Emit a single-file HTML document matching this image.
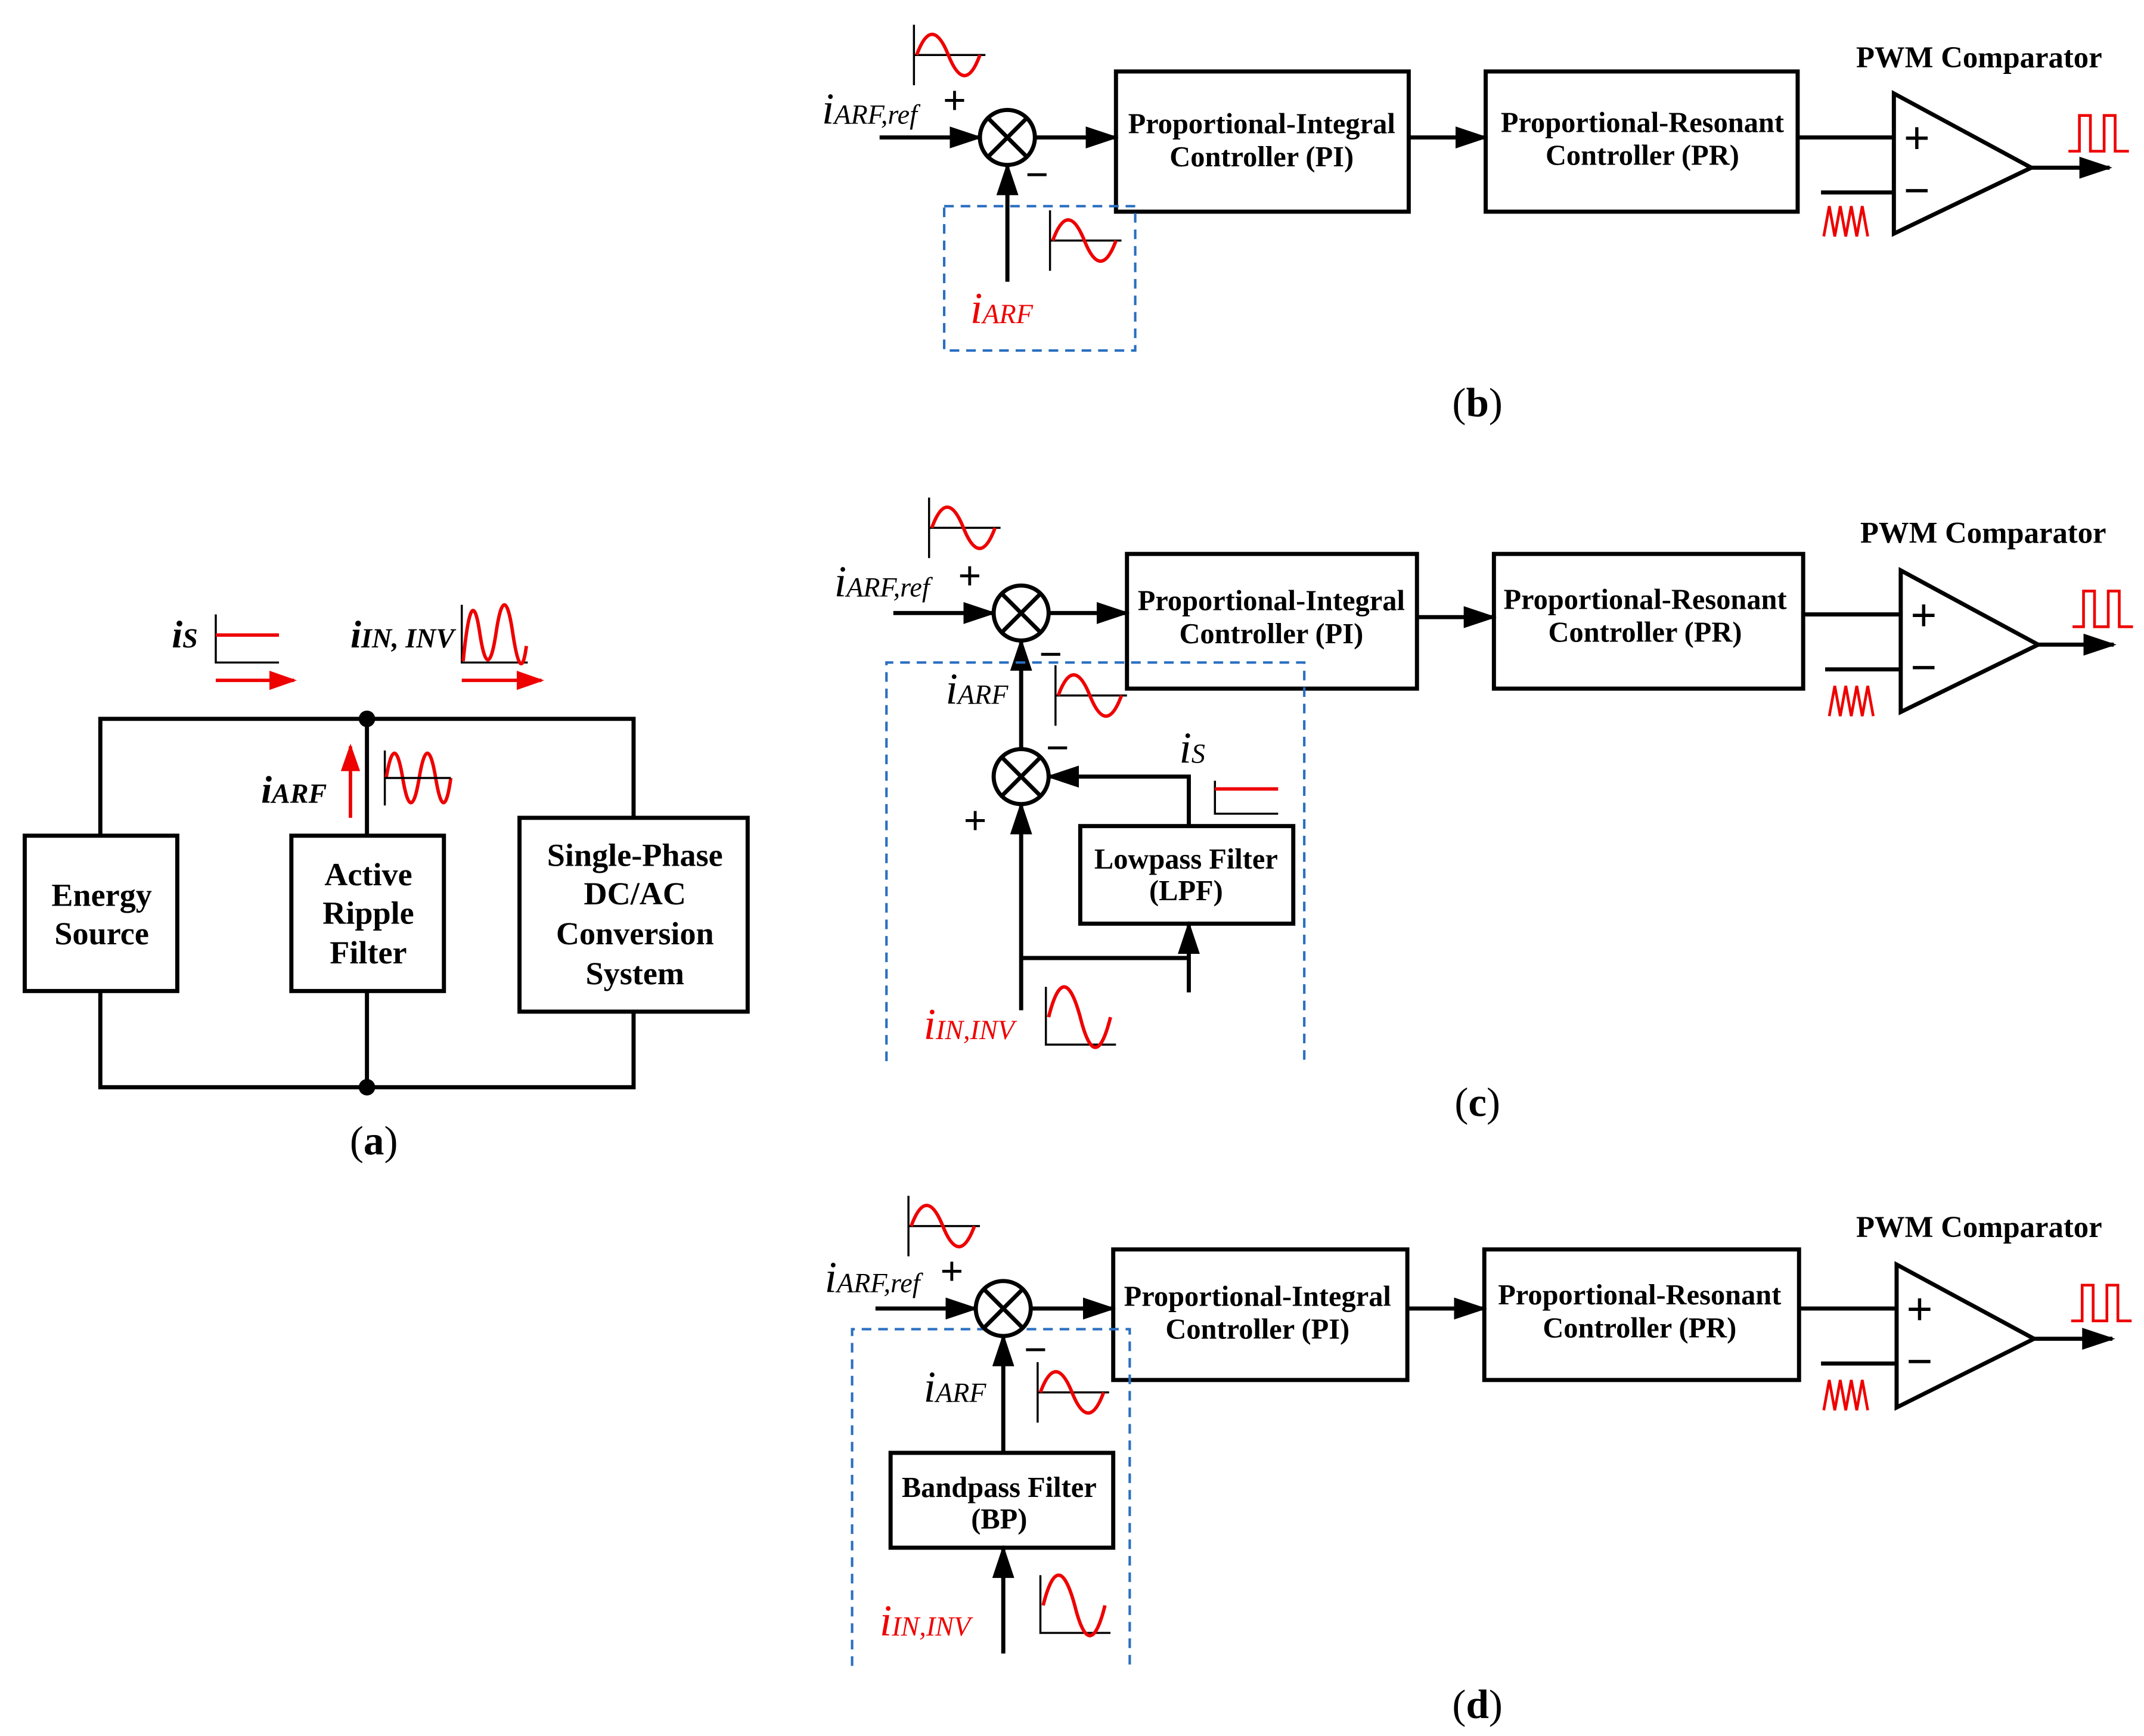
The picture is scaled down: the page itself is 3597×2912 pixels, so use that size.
<!DOCTYPE html>
<html><head><meta charset="utf-8"><style>
html,body{margin:0;padding:0;background:#fff;}
svg{display:block;}
text{font-family:"Liberation Serif",serif;}
.b{font-weight:bold;font-size:21px;}
.lab{font-size:32px;font-style:italic;}
.sub{font-size:20px;font-style:italic;}
</style></head><body>
<svg width="3597" height="2912" viewBox="0 0 1560 1263" preserveAspectRatio="none" xmlns="http://www.w3.org/2000/svg">
<defs>
<marker id="arL" markerWidth="24" markerHeight="16" refX="22" refY="8" orient="auto" markerUnits="userSpaceOnUse"><path d="M0,0 L24,8 L0,16 z" fill="#000"/></marker>
<marker id="arR" markerWidth="20" markerHeight="14" refX="18" refY="7" orient="auto" markerUnits="userSpaceOnUse"><path d="M0,0 L20,7 L0,14 z" fill="#e00"/></marker>
<g id="sine"><path d="M0,-22 L0,22 M0,0 L52,0" stroke="#000" stroke-width="1.5" fill="none"/><path d="M2,0 Q13,-30 25,0 Q37,30 48,0" stroke="#e00" stroke-width="2.5" fill="none"/></g>
<g id="sum"><circle cx="0" cy="0" r="20" fill="#fff" stroke="#000" stroke-width="3"/><path d="M-14,-14 L14,14 M-14,14 L14,-14" stroke="#000" stroke-width="3"/></g>
<g id="saw"><path d="M0,24 L4,2 L8,24 L12,2 L16,24 L20,2 L24,24 L28,2 L32,24" stroke="#e00" stroke-width="2" fill="none"/></g>
<g id="pulse"><path d="M0,26 L8,26 L8,0 L16,0 L16,26 L26,26 L26,0 L34,0 L34,26 L44,26" stroke="#e00" stroke-width="2" fill="none"/></g>
</defs>
<g stroke="#000" stroke-width="3" fill="none">
<line x1="640" y1="100" x2="713" y2="100" marker-end="url(#arL)"/>
<line x1="753" y1="100" x2="812" y2="100" marker-end="url(#arL)"/>
<rect x="812" y="52" width="213" height="102"/>
<line x1="1025" y1="100" x2="1081" y2="100" marker-end="url(#arL)"/>
<rect x="1081" y="52" width="227" height="102"/>
<line x1="1308" y1="100" x2="1378" y2="100"/>
<line x1="1325" y1="140" x2="1378" y2="140"/>
<path d="M1378,68 L1378,170 L1478,122 z"/>
<line x1="1478" y1="122" x2="1535" y2="122" marker-end="url(#arL)"/>
<line x1="733" y1="205" x2="733" y2="120" marker-end="url(#arL)"/>
<line x1="650" y1="446" x2="723" y2="446" marker-end="url(#arL)"/>
<line x1="763" y1="446" x2="820" y2="446" marker-end="url(#arL)"/>
<rect x="820" y="403" width="211" height="98"/>
<line x1="1031" y1="449" x2="1087" y2="449" marker-end="url(#arL)"/>
<rect x="1087" y="403" width="225" height="98"/>
<line x1="1312" y1="447" x2="1383" y2="447"/>
<line x1="1328" y1="487" x2="1383" y2="487"/>
<path d="M1383,415 L1383,518 L1483,469 z"/>
<line x1="1483" y1="469" x2="1538" y2="469" marker-end="url(#arL)"/>
<line x1="743" y1="545" x2="743" y2="466" marker-end="url(#arL)"/>
<line x1="743" y1="735" x2="743" y2="585" marker-end="url(#arL)"/>
<polyline points="865,601 865,565 763,565" marker-end="url(#arL)"/>
<rect x="786" y="601" width="155" height="71"/>
<polyline points="743,697 865,697"/>
<line x1="865" y1="722" x2="865" y2="672" marker-end="url(#arL)"/>
<line x1="637" y1="952" x2="710" y2="952" marker-end="url(#arL)"/>
<line x1="750" y1="952" x2="810" y2="952" marker-end="url(#arL)"/>
<rect x="810" y="909" width="214" height="95"/>
<line x1="1024" y1="952" x2="1080" y2="952" marker-end="url(#arL)"/>
<rect x="1080" y="909" width="229" height="95"/>
<line x1="1309" y1="952" x2="1380" y2="952"/>
<line x1="1325" y1="992" x2="1380" y2="992"/>
<path d="M1380,920 L1380,1024 L1480,974 z"/>
<line x1="1480" y1="974" x2="1537" y2="974" marker-end="url(#arL)"/>
<line x1="730" y1="1057" x2="730" y2="972" marker-end="url(#arL)"/>
<rect x="648" y="1057" width="162" height="69"/>
<line x1="730" y1="1203" x2="730" y2="1126" marker-end="url(#arL)"/>
<polyline points="73,608 73,523 461,523 461,595"/>
<polyline points="73,721 73,791 461,791 461,736"/>
<line x1="267" y1="523" x2="267" y2="608"/>
<line x1="267" y1="721" x2="267" y2="791"/>
<rect x="18" y="608" width="111" height="113"/>
<rect x="212" y="608" width="111" height="113"/>
<rect x="378" y="595" width="166" height="141"/>
</g>
<circle cx="267" cy="523" r="6"/><circle cx="267" cy="791" r="6"/>
<g stroke="#2a6fc0" stroke-width="1.8" stroke-dasharray="7,5" fill="none">
<rect x="687" y="150" width="139" height="105"/>
<polyline points="645,772 645,482 949,482 949,772"/>
<polyline points="620,1212 620,967 822,967 822,1212"/>
</g>
<use href="#sum" x="733" y="100"/>
<use href="#sum" x="743" y="446"/>
<use href="#sum" x="743" y="565"/>
<use href="#sum" x="730" y="952"/>
<use href="#sine" x="665" y="40"/>
<use href="#sine" x="764" y="175"/>
<use href="#sine" x="676" y="384"/>
<use href="#sine" x="768" y="506"/>
<use href="#sine" x="661" y="892"/>
<use href="#sine" x="755" y="1013"/>
<g stroke="#000" stroke-width="1.5" fill="none"><path d="M761,718 L761,760 L812,760"/><path d="M757,1146 L757,1188 L808,1188"/><path d="M884,568 L884,592 L930,592"/></g>
<path d="M763,740 Q774,696 786,740 Q797,784 808,740" stroke="#e00" stroke-width="2.5" fill="none"/>
<path d="M759,1168 Q770,1124 782,1168 Q793,1212 804,1168" stroke="#e00" stroke-width="2.5" fill="none"/>
<line x1="884" y1="574" x2="930" y2="574" stroke="#e00" stroke-width="2.5"/>
<use href="#saw" x="1327" y="148"/>
<use href="#saw" x="1331" y="497"/>
<use href="#saw" x="1327" y="1002"/>
<use href="#pulse" x="1505" y="84"/>
<use href="#pulse" x="1508" y="430"/>
<use href="#pulse" x="1507" y="935"/>
<g stroke="#000" stroke-width="1.5" fill="none"><path d="M157,447 L157,482 L203,482"/><path d="M336,440 L336,482 L384,482"/><path d="M280,546 L280,586"/></g>
<line x1="157" y1="462" x2="203" y2="462" stroke="#e00" stroke-width="2.5"/>
<path d="M337,481 Q343,420 349,460 Q355,500 361,460 Q367,420 373,460 Q379,500 383,470" stroke="#e00" stroke-width="2.5" fill="none"/>
<path d="M281,566 Q287,530 293,566 Q299,602 305,566 Q311,530 317,566 Q323,602 328,566" stroke="#e00" stroke-width="2.5" fill="none"/>
<line x1="280" y1="566" x2="328" y2="566" stroke="#000" stroke-width="1.5"/>
<line x1="157" y1="495" x2="214" y2="495" stroke="#e00" stroke-width="2.5" marker-end="url(#arR)"/>
<line x1="336" y1="495" x2="394" y2="495" stroke="#e00" stroke-width="2.5" marker-end="url(#arR)"/>
<line x1="255" y1="595" x2="255" y2="543" stroke="#e00" stroke-width="2.5" marker-end="url(#arR)"/>
<g class="b" text-anchor="middle">
<text x="918" y="97">Proportional-Integral</text><text x="918" y="121">Controller (PI)</text>
<text x="1195" y="96">Proportional-Resonant</text><text x="1195" y="120">Controller (PR)</text>
<text x="925" y="444">Proportional-Integral</text><text x="925" y="468">Controller (PI)</text>
<text x="1197" y="443">Proportional-Resonant</text><text x="1197" y="467">Controller (PR)</text>
<text x="915" y="950">Proportional-Integral</text><text x="915" y="974">Controller (PI)</text>
<text x="1193" y="949">Proportional-Resonant</text><text x="1193" y="973">Controller (PR)</text>
<text x="863" y="632">Lowpass Filter</text><text x="863" y="655">(LPF)</text>
<text x="727" y="1089">Bandpass Filter</text><text x="727" y="1112">(BP)</text>
<text x="1440" y="49" font-size="22">PWM Comparator</text>
<text x="1443" y="395" font-size="22">PWM Comparator</text>
<text x="1440" y="900" font-size="22">PWM Comparator</text>
<g font-size="23.5"><text x="74" y="659">Energy</text><text x="74" y="687">Source</text>
<text x="268" y="644">Active</text><text x="268" y="672">Ripple</text><text x="268" y="701">Filter</text>
<text x="462" y="630">Single-Phase</text><text x="462" y="658">DC/AC</text><text x="462" y="687">Conversion</text><text x="462" y="716">System</text></g>
</g>
<g font-size="30" text-anchor="middle"><text x="1075" y="303">(<tspan font-weight="bold">b</tspan>)</text><text x="1075" y="812">(<tspan font-weight="bold">c</tspan>)</text><text x="1075" y="1250">(<tspan font-weight="bold">d</tspan>)</text><text x="272" y="840">(<tspan font-weight="bold">a</tspan>)</text></g>
<g font-weight="bold" font-size="30" font-family="DejaVu Sans, sans-serif">
<text x="686" y="83">+</text><text x="746" y="137">−</text>
<text x="697" y="429">+</text><text x="756" y="486">−</text><text x="761" y="554">−</text><text x="701" y="607">+</text>
<text x="684" y="935">+</text><text x="745" y="992">−</text>
<g font-size="34"><text x="1385" y="112">+</text><text x="1385" y="150">−</text>
<text x="1390" y="459">+</text><text x="1390" y="497">−</text>
<text x="1387" y="964">+</text><text x="1387" y="1002">−</text></g>
</g>
<g class="lab">
<text x="598" y="90">i<tspan class="sub">ARF,ref</tspan></text>
<text x="706" y="235" fill="#e00">i<tspan class="sub">ARF</tspan></text>
<text x="607" y="434">i<tspan class="sub">ARF,ref</tspan></text>
<text x="688" y="512">i<tspan class="sub">ARF</tspan></text>
<text x="858" y="555">i<tspan class="sub">S</tspan></text>
<text x="672" y="756" fill="#e00">i<tspan class="sub">IN,INV</tspan></text>
<text x="600" y="940">i<tspan class="sub">ARF,ref</tspan></text>
<text x="672" y="1020">i<tspan class="sub">ARF</tspan></text>
<text x="640" y="1190" fill="#e00">i<tspan class="sub">IN,INV</tspan></text>
<text x="125" y="471" font-weight="bold" font-size="28">i<tspan class="sub" font-size="17">S</tspan></text>
<text x="255" y="471" font-weight="bold" font-size="28">i<tspan class="sub" font-size="17">IN, INV</tspan></text>
<text x="190" y="584" font-weight="bold" font-size="28">i<tspan class="sub" font-size="17">ARF</tspan></text>
</g>
</svg>
</body></html>
